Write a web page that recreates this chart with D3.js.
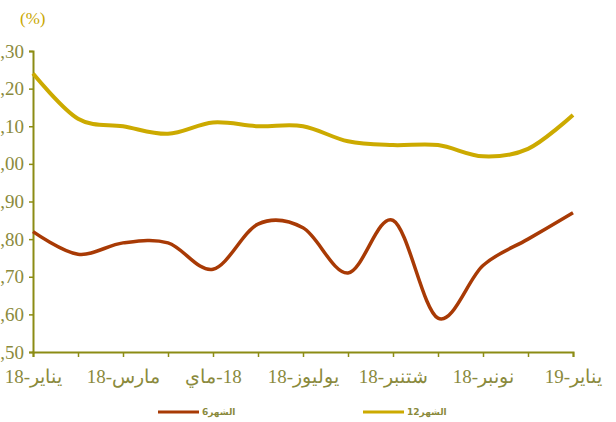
<!DOCTYPE html>
<html>
<head>
<meta charset="utf-8">
<script src="https://cdn.jsdelivr.net/npm/d3@7"></script>
<style>
  body { margin: 0; background: #fff; }
  svg { display: block; }
  .axis text { font-family: "Liberation Serif", "DejaVu Serif", serif; }
</style>
</head>
<body>
<svg id="chart"></svg>
<script>
// months on the x axis (every second one gets a label)
const MONTHS = ["2018-01", "2018-02", "2018-03", "2018-04", "2018-05", "2018-06",
    "2018-07", "2018-08", "2018-09", "2018-10", "2018-11", "2018-12", "2019-01"];
const MONTH_LABELS = {
    "2018-01": "18-يناير",
    "2018-03": "18-مارس",
    "2018-05": "ماي\u200E-18",
    "2018-07": "18-يوليوز",
    "2018-09": "18-شتنبر",
    "2018-11": "18-نونبر",
    "2019-01": "19-يناير"
};

// 6 months and 12 months rates (%)
const SIX_MONTHS = [1.82, 1.76, 1.79, 1.79, 1.72, 1.84, 1.83, 1.71, 1.85, 1.59, 1.73, 1.80, 1.87];
const TWELVE_MONTHS = [2.24, 2.12, 2.10, 2.08, 2.11, 2.10, 2.10, 2.06, 2.05, 2.05, 2.02, 2.04, 2.13];
const Y_TICKS = [1.5, 1.6, 1.7, 1.8, 1.9, 2.0, 2.1, 2.2, 2.3];

const SERIES = [
    { name: "\u200E6الشهر", values: SIX_MONTHS, color: "#a83a05", width: 3.5 },
    { name: "\u200E12الشهر", values: TWELVE_MONTHS, color: "#ccaa00", width: 4 }
];

const WIDTH = 616;
const HEIGHT = 422;
const AXIS_COLOR = "#8c8c14";
const TEXT_COLOR = "#8a8a3c";

const svg = d3.select("#chart")
    .attr("width", WIDTH)
    .attr("height", HEIGHT);

svg.append("rect")
    .attr("width", WIDTH)
    .attr("height", HEIGHT)
    .attr("fill", "#fff");

const x = d3.scalePoint()
    .domain(MONTHS)
    .range([33, 573]);

const y = d3.scaleLinear()
    .domain([1.5, 2.3])
    .range([352, 51]);

// y axis
const yAxis = svg.append("g")
    .attr("class", "axis")
    .attr("transform", "translate(33,0)")
    .call(d3.axisLeft(y)
        .tickValues(Y_TICKS)
        .tickSize(4)
        .tickPadding(5)
        .tickFormat(d => d3.format(".2f")(d).replace(".", ",")));

// x axis
const xAxis = svg.append("g")
    .attr("class", "axis")
    .attr("transform", "translate(0,352)")
    .call(d3.axisBottom(x)
        .tickSize(5)
        .tickPadding(13)
        .tickFormat(d => MONTH_LABELS[d] || ""));

svg.selectAll(".axis path")
    .attr("stroke", AXIS_COLOR)
    .attr("stroke-width", 2);
svg.selectAll(".axis .tick line")
    .attr("stroke", AXIS_COLOR)
    .attr("stroke-width", 1.5);
svg.selectAll(".axis text")
    .attr("fill", TEXT_COLOR)
    .attr("font-size", 19);
xAxis.selectAll("text").attr("direction", "ltr");

// unit label
svg.append("text")
    .attr("x", 20)
    .attr("y", 24)
    .attr("font-family", "Liberation Serif, serif")
    .attr("font-size", 17)
    .attr("fill", "#c9a800")
    .text("(%)");

const line = d3.line()
    .x((d, i) => x(MONTHS[i]))
    .y(d => y(d))
    .curve(d3.curveCatmullRom.alpha(0));

svg.selectAll(".series")
    .data(SERIES)
    .enter()
    .append("path")
    .attr("class", "series")
    .attr("fill", "none")
    .attr("stroke", d => d.color)
    .attr("stroke-width", d => d.width)
    .attr("stroke-linejoin", "round")
    .attr("d", d => line(d.values));

// legend
const legend = svg.selectAll(".legend")
    .data(SERIES)
    .enter()
    .append("g")
    .attr("class", "legend")
    .attr("transform", (d, i) => "translate(" + (158 + i * 205) + ",412)");

legend.append("line")
    .attr("x1", 0)
    .attr("x2", 41)
    .attr("stroke", d => d.color)
    .attr("stroke-width", 3);

legend.append("text")
    .attr("x", 44)
    .attr("dy", "0.35em")
    .attr("direction", "ltr")
    .attr("font-family", "DejaVu Sans, sans-serif")
    .attr("font-size", 9)
    .attr("font-weight", "bold")
    .attr("fill", TEXT_COLOR)
    .text(d => d.name);
</script>
</body>
</html>
